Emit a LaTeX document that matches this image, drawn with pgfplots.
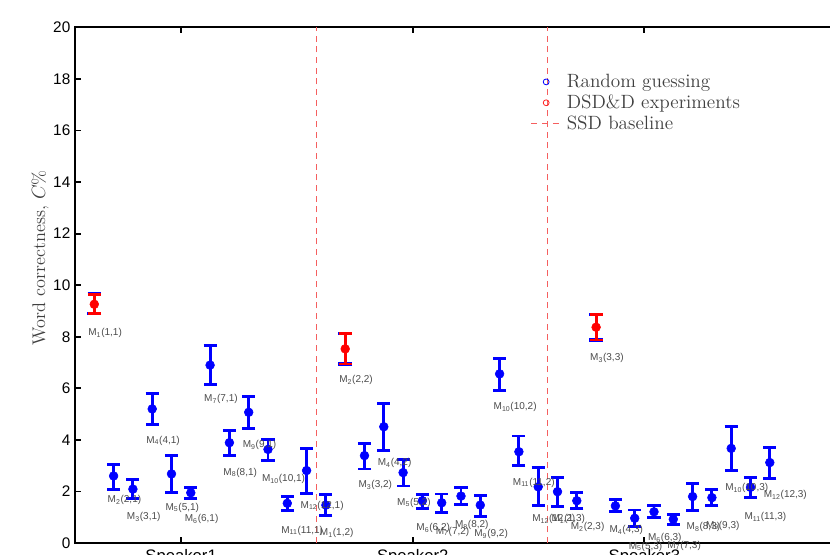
\documentclass[border=0pt]{standalone}
\usepackage{pgfplots}
\pgfplotsset{compat=1.18}
\usepackage{pgfplotstable}
\usepackage{fontspec}
\newfontfamily\arial{Liberation Sans}
\definecolor{mblue}{RGB}{0,0,255}
\definecolor{mred}{RGB}{255,0,0}
\definecolor{dred}{RGB}{245,95,95}
\definecolor{lgray}{RGB}{75,75,75}

\pgfplotstableread{
x y ep em
2 2.60 0.46 0.51
3 2.09 0.39 0.36
4 5.20 0.61 0.60
5 2.68 0.71 0.73
6 1.95 0.21 0.23
7 6.90 0.77 0.77
8 3.89 0.49 0.48
9 5.07 0.61 0.62
10 3.63 0.39 0.44
11 1.54 0.26 0.29
12 2.81 0.84 0.88
13 1.47 0.42 0.41
15 3.39 0.48 0.52
16 4.51 0.91 0.93
17 2.73 0.52 0.52
18 1.64 0.25 0.29
19 1.56 0.34 0.37
20 1.82 0.33 0.32
21 1.47 0.39 0.45
22 6.56 0.60 0.63
23 3.54 0.61 0.54
24 2.18 0.74 0.74
25 1.99 0.56 0.58
26 1.64 0.31 0.29
28 1.44 0.23 0.23
29 0.96 0.32 0.33
30 1.21 0.23 0.21
31 0.92 0.20 0.20
32 1.80 0.52 0.55
33 1.76 0.30 0.32
34 3.67 0.84 0.86
35 2.16 0.37 0.39
36 3.12 0.59 0.61
}\bluedata

\pgfplotstableread{
x y ep em
1 9.26 0.39 0.35
14 7.53 0.60 0.59
27 8.37 0.50 0.50
}\reddata

\begin{document}
\begin{tikzpicture}
\path[use as bounding box] (-56.25pt,-9pt) rectangle (566.25pt,407.25pt);
\clip (-56.25pt,-9pt) rectangle (566.25pt,407.25pt);
\begin{axis}[
  anchor=south west,
  at={(0pt,0pt)},
  x=14.475pt, y=19.335pt,
  xmin=0, xmax=40, ymin=0, ymax=20,
  clip=false,
  axis line style={line width=1.6pt, black},
  tick style={line width=1.4pt, black},
  major tick length=4.5pt,
  tick align=inside,
  xtick={5.5,17.5,29.5},
  xticklabels={Speaker1,Speaker2,Speaker3},
  ytick={0,2,4,6,8,10,12,14,16,18,20},
  ticklabel style={font=\arial\fontsize{11.5}{13}\selectfont},
  xticklabel style={font=\arial\fontsize{12.5}{14}\selectfont, yshift=-1pt},
  /pgf/number format/assume math mode=true,
  ylabel={Word correctness, $C$\%},
  ylabel style={at={(rel axis cs:0,0.5535)}, anchor=center, yshift=26.25pt,
    font=\fontsize{13.7}{16}\selectfont, text=black!75},
  legend image code/.code={\draw[mark repeat=2,mark phase=2,#1] plot coordinates {(0pt,0pt) (11pt,0pt) (24pt,0pt)};},
  legend style={draw=none, fill=none, at={(axis cs:23.4,18.4)}, anchor=north west,
    font=\fontsize{14.4}{16}\selectfont, row sep=0pt,
    /tikz/every even column/.append style={column sep=2pt}},
  legend cell align=left,
]
\addlegendimage{draw=mblue, only marks, mark=o, mark size=2.2pt, line width=0.6pt}
\addlegendimage{draw=mred!85, only marks, mark=o, mark size=2.2pt, line width=0.6pt}
\addlegendimage{legend image code/.code={\draw[draw=dred, line width=0.9pt, dash pattern=on 4.5pt off 3.5pt] (0pt,0pt) -- (24pt,0pt);}}
\legend{\textcolor{black!75}{Random guessing}, \textcolor{black!75}{DSD\&D experiments}, \textcolor{black!75}{SSD baseline}}

\addplot[dred, line width=0.8pt, dash pattern=on 4.5pt off 3.5pt, forget plot] coordinates {(12.5,0) (12.5,20)};
\addplot[dred, line width=0.8pt, dash pattern=on 4.5pt off 3.5pt, forget plot] coordinates {(24.5,0) (24.5,20)};

\addplot[mblue, only marks, mark=*, mark size=3.3pt, forget plot,
  error bars/.cd, y dir=both, y explicit,
  error bar style={line width=2.2pt, mblue},
  error mark=-,
  error mark options={rotate=90, mblue, mark size=4.9pt, line width=2.2pt}]
  table[x=x, y=y, y error plus=ep, y error minus=em] {\bluedata};

% blue fringe under the red error bars
\addplot[mblue, only marks, mark=none, forget plot,
  error bars/.cd, y dir=both, y explicit,
  error bar style={line width=2.2pt, mblue},
  error mark=-,
  error mark options={rotate=90, mblue, mark size=5.1pt, line width=2.6pt}]
  table[x=x, y=y, y error plus=ep, y error minus=em] {\reddata};

\addplot[mred, only marks, mark=*, mark size=3.3pt, forget plot,
  error bars/.cd, y dir=both, y explicit,
  error bar style={line width=2.2pt, mred},
  error mark=-,
  error mark options={rotate=90, mred, mark size=4.9pt, line width=2.0pt}]
  table[x=x, y=y, y error plus=ep, y error minus=em] {\reddata};

\addplot[only marks, mark=none, forget plot, nodes near coords, point meta=explicit symbolic,
  every node near coord/.style={anchor=west, inner sep=0pt, font=\arial\fontsize{7.5}{8}\selectfont, text=lgray}]
  coordinates {
  (0.68,8.13) [M\textsubscript{1}(1,1)]
  (1.68,1.67) [M\textsubscript{2}(2,1)]
  (2.68,1.00) [M\textsubscript{3}(3,1)]
  (3.68,3.97) [M\textsubscript{4}(4,1)]
  (4.68,1.37) [M\textsubscript{5}(5,1)]
  (5.68,0.92) [M\textsubscript{6}(6,1)]
  (6.68,5.57) [M\textsubscript{7}(7,1)]
  (7.68,2.73) [M\textsubscript{8}(8,1)]
  (8.68,3.81) [M\textsubscript{9}(9,1)]
  (9.68,2.48) [M\textsubscript{10}(10,1)]
  (10.68,0.48) [M\textsubscript{11}(11,1)]
  (11.68,1.45) [M\textsubscript{12}(12,1)]
  (12.68,0.38) [M\textsubscript{1}(1,2)]
  (13.68,6.32) [M\textsubscript{2}(2,2)]
  (14.68,2.25) [M\textsubscript{3}(3,2)]
  (15.68,3.11) [M\textsubscript{4}(4,2)]
  (16.68,1.56) [M\textsubscript{5}(5,2)]
  (17.68,0.57) [M\textsubscript{6}(6,2)]
  (18.68,0.44) [M\textsubscript{7}(7,2)]
  (19.68,0.70) [M\textsubscript{8}(8,2)]
  (20.68,0.35) [M\textsubscript{9}(9,2)]
  (21.68,5.26) [M\textsubscript{10}(10,2)]
  (22.68,2.35) [M\textsubscript{11}(11,2)]
  (23.68,0.92) [M\textsubscript{12}(12,2)]
  (24.68,0.92) [M\textsubscript{1}(1,3)]
  (25.68,0.61) [M\textsubscript{2}(2,3)]
  (26.68,7.16) [M\textsubscript{3}(3,3)]
  (27.68,0.50) [M\textsubscript{4}(4,3)]
  (28.68,-0.14) [M\textsubscript{5}(5,3)]
  (29.68,0.18) [M\textsubscript{6}(6,3)]
  (30.68,-0.10) [M\textsubscript{7}(7,3)]
  (31.68,0.63) [M\textsubscript{8}(8,3)]
  (32.68,0.67) [M\textsubscript{9}(9,3)]
  (33.68,2.12) [M\textsubscript{10}(10,3)]
  (34.68,1.00) [M\textsubscript{11}(11,3)]
  (35.68,1.86) [M\textsubscript{12}(12,3)]
  };
\end{axis}
\end{tikzpicture}
\end{document}
